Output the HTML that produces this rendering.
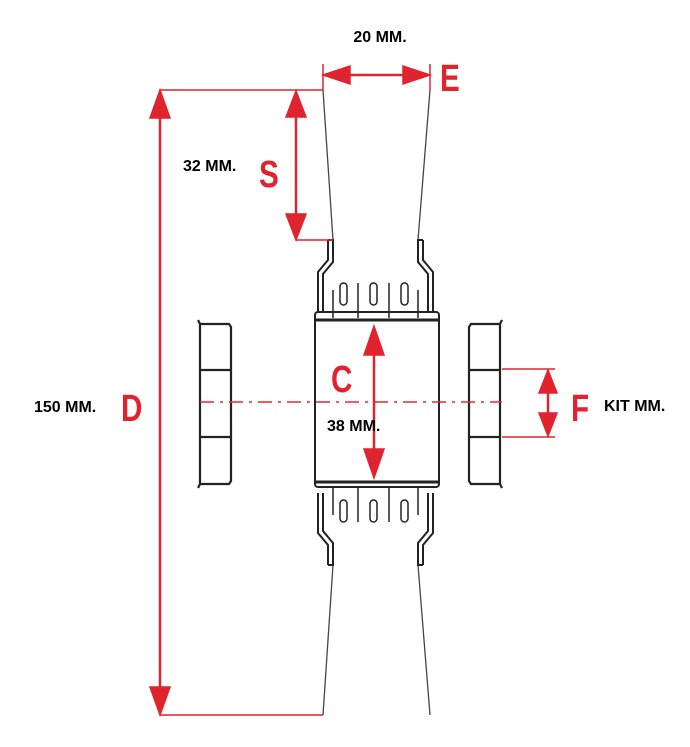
<!DOCTYPE html>
<html><head><style>
html,body{margin:0;padding:0;background:#fff;width:690px;height:747px;overflow:hidden}
svg{display:block}
text{font-family:"Liberation Sans",Arial,sans-serif}
</style></head><body>
<svg width="690" height="747" viewBox="0 0 690 747">
<defs>
<g id="conn" fill="none" stroke="#222" stroke-width="2">
  <path d="M328,240 L333,240 L333,262 L323,274 L323,312"/>
  <path d="M328,240 L328,260 L318,272 L318,312"/>
  <path d="M423,240 L418,240 L418,262 L428,274 L428,312"/>
  <path d="M423,240 L423,260 L433,272 L433,312"/>
  <path d="M333,290 L333,318 M358,283 L358,318 M389,283 L389,318 M418,290 L418,318" stroke-width="1.5"/>
  <rect x="340" y="283" width="7" height="22" rx="3.5" stroke-width="1.5"/>
  <rect x="370" y="283" width="7" height="22" rx="3.5" stroke-width="1.5"/>
  <rect x="401" y="283" width="7" height="22" rx="3.5" stroke-width="1.5"/>
</g>
<g id="side" fill="none" stroke="#222" stroke-width="2.2">
  <path d="M200,324 L198,320 M200,324 L229,324 L231,327 L231,481 L229,484 L200,484 L198,488"/>
  <line x1="200" y1="324" x2="200" y2="484"/>
  <line x1="200" y1="370" x2="231" y2="370"/>
  <line x1="200" y1="437" x2="231" y2="437"/>
</g>
</defs>
<g fill="none" stroke="#444" stroke-width="1.3">
<path d="M323,90 L333,240 M430,90 L418,240"/>
<path d="M323,715 L333,565 M430,715 L418,565"/>
</g>
<use href="#conn"/>
<use href="#conn" transform="translate(0,805) scale(1,-1)"/>
<g fill="none" stroke="#222" stroke-width="2">
<rect x="315" y="312" width="124" height="175" rx="3"/>
<line x1="316" y1="320" x2="438" y2="320" stroke-width="3"/>
<line x1="316" y1="482" x2="438" y2="482" stroke-width="3"/>
</g>
<use href="#side"/>
<use href="#side" transform="translate(700,0) scale(-1,1)"/>
<line x1="200" y1="402" x2="502" y2="402" stroke="#e02a36" stroke-width="1.5" stroke-dasharray="14,6,3,6"/>
<g stroke="#e0242f" stroke-width="1.5" fill="#e0242f">
<line x1="160" y1="90" x2="323" y2="90"/>
<line x1="160" y1="715" x2="323" y2="715"/>
<line x1="160" y1="100" x2="160" y2="705" stroke-width="2.5"/>
<polygon points="160,90 150,118 170,118"/>
<polygon points="160,715 150,687 170,687"/>
<line x1="296" y1="240" x2="333" y2="240"/>
<line x1="296" y1="100" x2="296" y2="230" stroke-width="2.5"/>
<polygon points="296,91 286,117 306,117"/>
<polygon points="296,240 286,214 306,214"/>
<line x1="323" y1="64" x2="323" y2="90"/>
<line x1="430" y1="64" x2="430" y2="90"/>
<line x1="330" y1="75" x2="423" y2="75" stroke-width="2.5"/>
<polygon points="323,75 350,66 350,84"/>
<polygon points="430,75 403,66 403,84"/>
<line x1="374" y1="340" x2="374" y2="465" stroke-width="2.5"/>
<polygon points="374,326 364,355 384,355"/>
<polygon points="374,478 364,449 384,449"/>
<line x1="502" y1="369" x2="555" y2="369"/>
<line x1="502" y1="437" x2="555" y2="437"/>
<line x1="548" y1="380" x2="548" y2="426" stroke-width="2.5"/>
<polygon points="548,370 539,393 557,393"/>
<polygon points="548,436 539,413 557,413"/>
</g>
<g fill="#e0242f" font-weight="bold" font-size="38">
<text transform="translate(440,91) scale(0.78,1)">E</text>
<text transform="translate(259,187) scale(0.78,1)">S</text>
<text transform="translate(121,421) scale(0.78,1)">D</text>
<text transform="translate(331,392) scale(0.78,1)">C</text>
<text transform="translate(571,421) scale(0.78,1)">F</text>
</g>
<g fill="#000" font-size="16" font-weight="bold">
<text x="380" y="42" text-anchor="middle">20 MM.</text>
<text x="183" y="171">32 MM.</text>
<text x="34" y="412">150 MM.</text>
<text x="327" y="431">38 MM.</text>
<text x="604" y="411">KIT MM.</text>
</g>
</svg>
</body></html>
